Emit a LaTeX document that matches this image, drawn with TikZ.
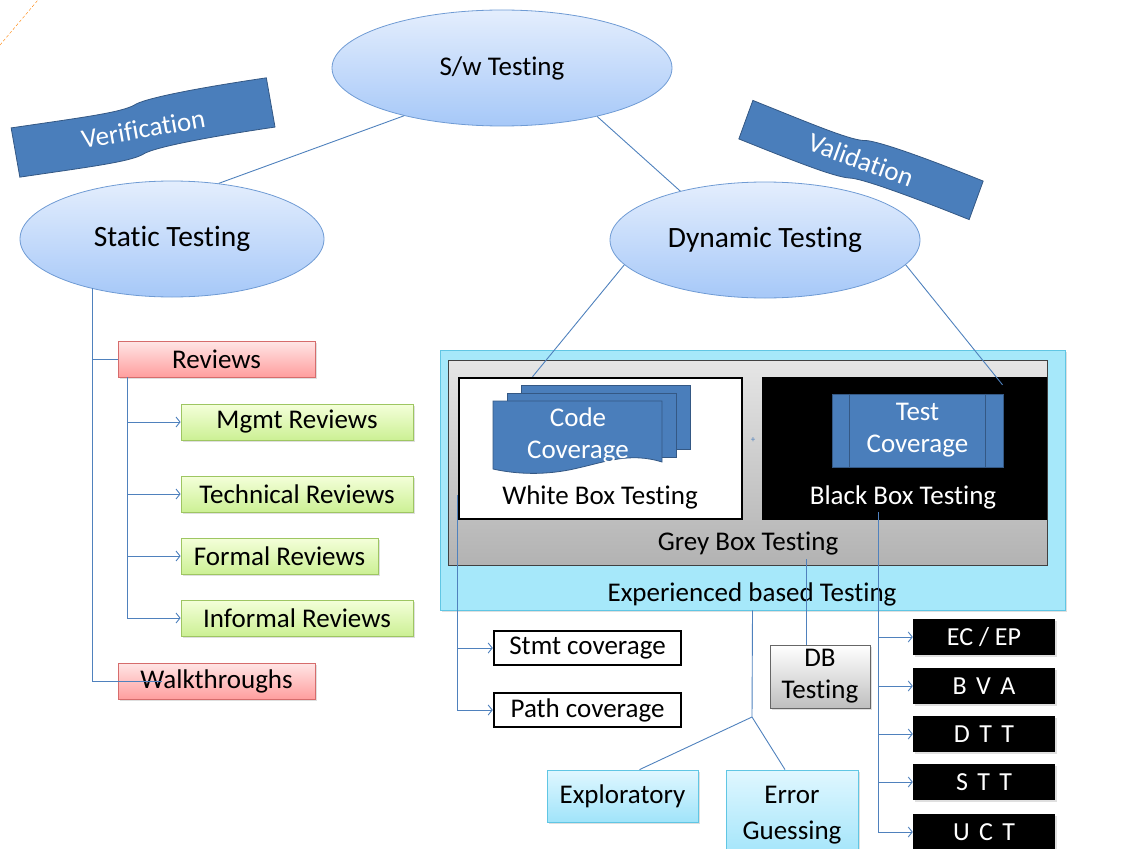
\documentclass[tikz,border=0pt]{standalone}
\usepackage{fontspec}
\setmainfont{Carlito}[Ligatures=NoCommon]
\usepackage{tikz}
\usetikzlibrary{shapes.geometric, arrows.meta, positioning, fit, shadows}
\definecolor{ovalborder}{RGB}{111,155,212}
\definecolor{ovaltop}{RGB}{228,238,253}
\definecolor{ovalbot}{RGB}{166,200,248}
\definecolor{linkblue}{RGB}{79,129,189}
\definecolor{bannerblue}{RGB}{74,126,187}
\definecolor{bannerdark}{RGB}{52,88,132}
\definecolor{redtop}{RGB}{255,230,230}
\definecolor{redbot}{RGB}{255,158,158}
\definecolor{redborder}{RGB}{214,108,108}
\definecolor{greentop}{RGB}{244,255,218}
\definecolor{greenbot}{RGB}{204,240,148}
\definecolor{greenborder}{RGB}{158,198,98}
\definecolor{cyanfill}{RGB}{166,232,250}
\definecolor{cyanborder}{RGB}{96,198,228}
\definecolor{cyantop}{RGB}{224,247,255}
\definecolor{cyanbot}{RGB}{160,228,250}
\newcommand{\widespace}{\spaceskip=0.36em\relax}

\begin{document}
\begin{tikzpicture}[x=1pt, y=-1pt,
    softshadow/.style={drop shadow={shadow xshift=2pt, shadow yshift=-2pt, opacity=0.25}},
    oval/.style={ellipse, draw=ovalborder, thick, top color=ovaltop, bottom color=ovalbot, inner sep=0pt, font=\fontsize{29.5}{32}\selectfont},
    redbox/.style={rectangle, draw=redborder, thick, top color=redtop, bottom color=redbot, softshadow, minimum width=197, minimum height=36, font=\fontsize{27}{30}\selectfont},
    greenbox/.style={rectangle, draw=greenborder, thick, top color=greentop, bottom color=greenbot, softshadow, minimum height=36, font=\fontsize{27}{30}\selectfont},
    outbox/.style={rectangle, draw=black, line width=2.5pt, fill=white, minimum width=187, minimum height=34, font=\fontsize{27}{30}\selectfont},
    blkbox/.style={rectangle, fill=black, text=white, softshadow, minimum width=142, minimum height=36, font=\fontsize{26}{28}\selectfont},
    spaced/.style={font=\fontsize{26}{28}\selectfont\widespace},
    cyanbox/.style={rectangle, draw=cyanborder, thick, top color=cyantop, bottom color=cyanbot, softshadow, align=center, font=\fontsize{27}{36}\selectfont},
    banner/.style={draw=bannerdark, thick, fill=bannerblue},
    bannertext/.style={text=white, transform shape, font=\fontsize{27}{29}\selectfont},
    docpage/.style={draw=bannerdark, thick, fill=bannerblue},
    label/.style={font=\fontsize{27}{30}\selectfont},
    link/.style={draw=linkblue, line width=0.9pt},
    arrow/.style={link, -{Straight Barb[length=4pt,width=10pt]}}
]
\useasboundingbox (0,0) rectangle (1134,848);
\draw[orange, densely dashed, thin] (0,45) -- (38,0);

% ovals
\node[oval, minimum width=340, minimum height=116, font=\fontsize{27}{30}\selectfont] (sw) at (502,68) {S/w Testing};
\node[oval, minimum width=304, minimum height=116] (static) at (172,239) {Static Testing};
\node[oval, minimum width=310, minimum height=116] (dynamic) at (765,240) {Dynamic Testing};

% banners
\begin{scope}[shift={(143,127)}, rotate=10]
  \draw[banner] (-130,-22) .. controls (-60,-20) and (-20,-18) .. (-5,-23)
     .. controls (5,-28) and (60,-29) .. (130,-27) -- (130,23)
     .. controls (60,21) and (5,22) .. (-5,27)
     .. controls (-20,32) and (-60,30) .. (-130,28) -- cycle;
  \node[bannertext] (verif) at (0,2) {Verification};
\end{scope}
\begin{scope}[shift={(861,160)}, rotate=-20]
  \draw[banner] (-122,-19) .. controls (-60,-17) and (-20,-15) .. (-5,-19)
     .. controls (5,-24) and (60,-24) .. (122,-22) -- (122,19)
     .. controls (60,17) and (5,17) .. (-5,21)
     .. controls (-20,25) and (-60,24) .. (-122,22) -- cycle;
  \node[bannertext] (valid) at (0,0) {Validation};
\end{scope}

% static side
\node[redbox] (reviews) at (216.5,359) {Reviews};
\node[greenbox, minimum width=232] (mgmt) at (297,422) {Mgmt Reviews};
\node[greenbox, minimum width=232] (tech) at (297,494) {Technical Reviews};
\node[greenbox, minimum width=197] (formal) at (279.5,556) {Formal Reviews};
\node[greenbox, minimum width=232] (informal) at (297,618) {Informal Reviews};
\node[redbox] (walk) at (216.5,681) {Walkthroughs};

% dynamic side
\node[rectangle, draw=cyanborder, thick, fill=cyanfill, softshadow, minimum width=625, minimum height=260] (exp) at (752.5,480) {};
\node[label] (exptxt) at (752,594) {Experienced based Testing};
\node[rectangle, draw=black!75, thick, top color=black!10, bottom color=black!30, minimum width=599, minimum height=205] (grey) at (747.5,462.5) {};
\node[label] (greytxt) at (748,544) {Grey Box Testing};
\node[rectangle, draw=black, line width=2.5pt, fill=white, minimum width=283, minimum height=141] (white) at (600.5,448.5) {};
\node[label] (whitetxt) at (600,497) {White Box Testing};
\node[rectangle, fill=black, minimum width=285, minimum height=143] (black) at (904.5,448.5) {};
\node[label, text=white] (blacktxt) at (903,497) {Black Box Testing};
\node[text=linkblue, font=\small] (plus) at (753,440) {+};

\draw[docpage] (521,385) rectangle (690,449);
\draw[docpage] (507,393) rectangle (676,457);
\draw[docpage] (493,401) -- (662,401) -- (662,462)
   .. controls (630,452) and (605,462) .. (578,468)
   .. controls (545,476) and (515,474) .. (493,469) -- cycle;
\node[align=center, text=white, font=\fontsize{27}{32}\selectfont] (codecov) at (578,435) {Code\\Coverage};

\node[rectangle, draw=bannerdark, thick, fill=bannerblue, minimum width=171, minimum height=73, align=center, text=white, font=\fontsize{27}{32}\selectfont] (testcov) at (917.5,430.5) {Test\\Coverage};
\draw[bannerdark, thick] ([xshift=18]testcov.north west) -- ([xshift=18]testcov.south west);
\draw[bannerdark, thick] ([xshift=-18]testcov.north east) -- ([xshift=-18]testcov.south east);

\node[outbox] (stmt) at (587.5,648) {Stmt coverage};
\node[outbox] (path) at (587.5,710) {Path coverage};
\node[rectangle, draw=black!60, thick, top color=white, bottom color=black!25, softshadow, minimum width=100, minimum height=63, align=center, font=\fontsize{27}{32}\selectfont] (db) at (820,676.5) {DB\\Testing};
\node[cyanbox, minimum width=151, minimum height=52] (explor) at (622.5,796) {Exploratory};
\node[cyanbox, minimum width=132, minimum height=90] (error) at (792,815) {Error\\Guessing};

\node[blkbox] (ecep) at (984,637) {EC / EP};
\node[blkbox, spaced] (bva) at (984,686) {B V A};
\node[blkbox, spaced] (dtt) at (984,734) {D T T};
\node[blkbox, spaced] (stt) at (984,782) {S T T};
\node[blkbox, spaced] (uct) at (984,832) {U C T};

% connectors
\draw[link] (sw.206) -- (static.50);
\draw[link] (sw.333) -- (dynamic.150);
\draw[link] (dynamic.190) -- ([xshift=-68]white.north);
\draw[link] (dynamic.350) -- ([xshift=98,yshift=-8]black.north);

\coordinate (stroot) at (92,288);
\draw[link] (stroot) |- (reviews.west);
\draw[link] (stroot) |- ([xshift=44]walk.west);
\draw[arrow] ([xshift=10]reviews.south west) |- (mgmt.west);
\draw[arrow] ([xshift=10]reviews.south west) |- (tech.west);
\draw[arrow] ([xshift=10]reviews.south west) |- (formal.west);
\draw[arrow] ([xshift=10]reviews.south west) |- (informal.west);

\draw[arrow] ([yshift=25]white.south west) |- (stmt.west);
\draw[arrow] ([yshift=25]white.south west) |- (path.west);
\draw[link] ([xshift=58]greytxt.south) -- ([xshift=-14]db.north);

\draw[arrow] ([xshift=-25]blacktxt.south) |- (ecep.west);
\draw[arrow] ([xshift=-25]blacktxt.south) |- (bva.west);
\draw[arrow] ([xshift=-25]blacktxt.south) |- (dtt.west);
\draw[arrow] ([xshift=-25]blacktxt.south) |- (stt.west);
\draw[arrow] ([xshift=-25]blacktxt.south) |- (uct.west);

\coordinate (expjoin) at (752,717);
\draw[link] (exp.south) -- (expjoin);
\draw[link] (expjoin) -- ([xshift=17]explor.north);
\draw[link] (expjoin) -- ([xshift=-7]error.north);
\end{tikzpicture}
\end{document}
